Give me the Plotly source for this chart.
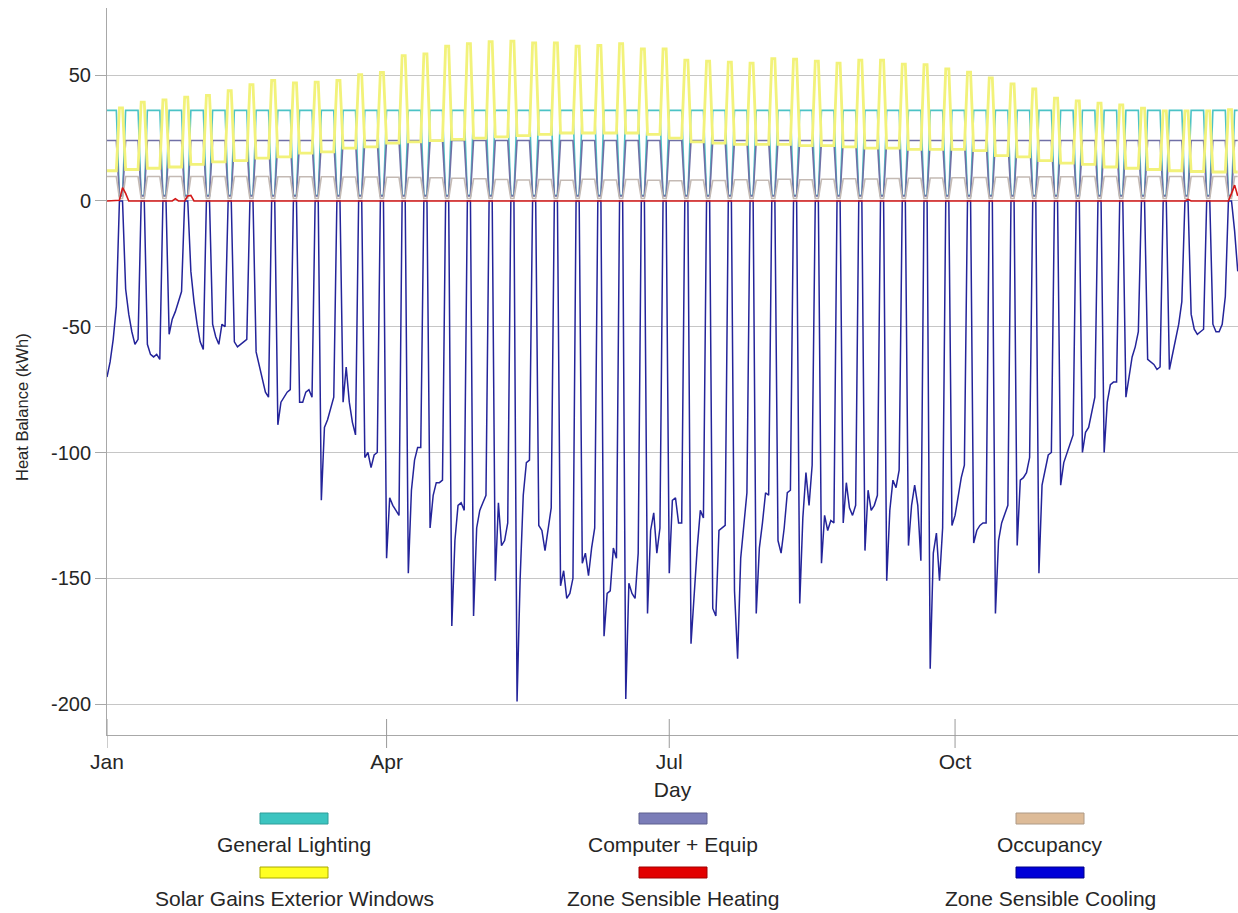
import pandas as pd
import plotly.graph_objects as go

# ---------------- DATA (daily heat balance, kWh) ----------------
# Days are grouped by working week: group 0 = Tue-Fri Jan 1-4, groups 1..51 = Mon-Fri,
# group 52 = Mon-Tue Dec 30-31. Each group is followed by a Sat+Sun weekend (52 weekends).
START_DATE = "2019-01-01"

cooling_weekdays = [
    [-70, -64, -55, -42],
    [-35, -45, -52, -57, -55],
    [-57, -61, -62, -61, -63],
    [-53, -47, -44, -40, -36],
    [-28, -40, -49, -56, -59],
    [-49, -54, -57, -49, -50],
    [-56, -58, -57, -56, -55],
    [-60, -65, -71, -76, -78],
    [-89, -80, -78, -76, -75],
    [-80, -80, -76, -75, -78],
    [-119, -90, -87, -82, -78],
    [-80, -66, -80, -88, -93],
    [-102, -100, -106, -101, -100],
    [-142, -118, -121, -123, -125],
    [-148, -115, -103, -98, -98],
    [-130, -117, -112, -112, -111],
    [-169, -135, -121, -120, -123],
    [-165, -130, -123, -120, -117],
    [-151, -120, -137, -135, -128],
    [-199, -150, -117, -104, -103],
    [-129, -131, -139, -130, -122],
    [-153, -147, -158, -156, -150],
    [-144, -140, -149, -138, -130],
    [-173, -156, -155, -138, -142],
    [-198, -152, -156, -158, -140],
    [-164, -131, -124, -140, -130],
    [-148, -119, -118, -128, -128],
    [-176, -155, -138, -123, -126],
    [-162, -165, -131, -130, -129],
    [-155, -182, -142, -128, -116],
    [-164, -138, -128, -116, -117],
    [-135, -140, -130, -116, -115],
    [-160, -126, -108, -121, -105],
    [-144, -125, -131, -127, -128],
    [-128, -112, -122, -125, -121],
    [-139, -115, -123, -121, -117],
    [-151, -123, -111, -114, -107],
    [-137, -121, -113, -121, -143],
    [-186, -140, -132, -151, -130],
    [-129, -125, -117, -110, -105],
    [-136, -131, -129, -128, -128],
    [-164, -135, -128, -124, -121],
    [-137, -111, -110, -108, -102],
    [-148, -113, -107, -101, -100],
    [-113, -104, -100, -96, -93],
    [-100, -92, -90, -84, -78],
    [-100, -80, -73, -72, -72],
    [-78, -70, -62, -58, -52],
    [-63, -64, -65, -67, -66],
    [-67, -61, -55, -49, -40],
    [-45, -51, -53, -52, -51],
    [-49, -52, -52, -49, -38],
    [-12, -28],
]
cooling_weekend = 0.0

solar_weekday = [
    12, 12.5, 13, 13.5, 14.5, 15.5, 16, 17, 17.5, 19,
    19.5, 21, 21.5, 23, 23.5, 24, 24.5, 25, 25.5, 26,
    26.5, 27, 27, 27, 27, 26.5, 25, 23.5, 23, 22.5,
    22.5, 22.5, 22, 22, 21.5, 21, 21, 20.5, 20.5, 20.5,
    20, 18, 17.5, 16, 15, 14.5, 13.5, 13, 12.5, 12,
    11.7, 11.5, 11.5,
]
solar_weekend = [
    37, 39.3, 40.2, 41.3, 42, 43.8, 46.2, 47.9, 46.9, 47.2,
    47.9, 50.2, 51.1, 57.8, 58.5, 61.5, 62.5, 63.3, 63.5, 62.8,
    62.8, 61.5, 61.8, 62.5, 60.4, 60.4, 56, 55.6, 55.2, 54.8,
    56.6, 56.4, 55.6, 54.8, 56, 56, 54.4, 54.2, 52.5, 51.2,
    48.9, 46.5, 44.5, 40.9, 39.8, 38.9, 38.2, 36.9, 35.8, 35.8,
    35.8, 36.3,
]

occupancy_weekday = [
    9.7, 9.7, 9.7, 9.7, 9.7, 9.7, 9.7, 9.7, 9.6, 9.6,
    9.6, 9.5, 9.5, 9.4, 9.3, 9.2, 9.0, 8.8, 8.5, 8.3,
    8.5, 8.2, 8.6, 8.3, 8.5, 8.2, 8.0, 8.3, 8.1, 8.4,
    8.2, 8.6, 8.4, 8.6, 8.8, 8.7, 8.9, 9.0, 9.1, 9.2,
    9.3, 9.4, 9.5, 9.6, 9.6, 9.7, 9.7, 9.7, 9.7, 9.7,
    9.7, 9.7, 9.7,
]
occupancy_weekend = 1.0

lighting_weekday, lighting_weekend = 36.0, 2.2
computer_weekday, computer_weekend = 24.0, 2.0

heating_days = [4, 5, 6, 22, 26, 27, 348, 362, 363, 364]
heating_values = [0.3, 5.3, 3.0, 0.9, 2.0, 2.2, 0.6, 3.0, 6.3, 2.0]

legend_names = ["General Lighting", "Computer + Equip", "Occupancy",
                "Solar Gains Exterior Windows", "Zone Sensible Heating", "Zone Sensible Cooling"]
month_ticks = ["2019-01-01", "2019-04-01", "2019-07-01", "2019-10-01"]
month_labels = ["Jan", "Apr", "Jul", "Oct"]
y_ticks = [-200, -150, -100, -50, 0, 50]
y_labels = ["-200", "-150", "-100", "-50", "0", "50"]

# ---------------- BUILD DAILY SERIES ----------------
def expand(weekday_groups, weekend_values):
    out = []
    for g, vals in enumerate(weekday_groups):
        out.extend(vals)
        if g < len(weekend_values):
            out.extend([weekend_values[g]] * 2)
    return out

sizes = [len(g) for g in cooling_weekdays]
n_weekends = len(cooling_weekdays) - 1

cooling = expand(cooling_weekdays, [cooling_weekend] * n_weekends)
solar = expand([[v] * s for v, s in zip(solar_weekday, sizes)], solar_weekend)
occupancy = expand([[v] * s for v, s in zip(occupancy_weekday, sizes)], [occupancy_weekend] * n_weekends)
lighting = expand([[lighting_weekday] * s for s in sizes], [lighting_weekend] * n_weekends)
computer = expand([[computer_weekday] * s for s in sizes], [computer_weekend] * n_weekends)
n_days = len(cooling)
heating = [0.0] * n_days
for d, v in zip(heating_days, heating_values):
    heating[d] = v

dates = pd.date_range(START_DATE, periods=n_days, freq="D")

# ---------------- FIGURE ----------------
W, H = 1238, 913
PL, PR, PT, PB = 107, 1238, 8, 735

def px(x):
    return (x - PL) / (PR - PL)

def py(y):
    return (PB - y) / (PB - PT)

FONT = "Liberation Sans, Arial, sans-serif"
TXT = "#262626"

series = [
    (legend_names[0], lighting, "#4CC3C6", 1.6),
    (legend_names[1], computer, "#7070A6", 1.6),
    (legend_names[2], occupancy, "#C4BAB4", 1.6),
    (legend_names[3], solar, "#F2F27A", 2.8),
    (legend_names[5], cooling, "#24249A", 1.5),
    (legend_names[4], heating, "#D41818", 1.6),
]

fig = go.Figure()
for name, vals, color, width in series:
    fig.add_trace(go.Scatter(x=dates, y=vals, mode="lines", name=name,
                             line=dict(color=color, width=width), showlegend=False))

shapes = []
# x ticks crossing the axis line (drawn both inside and outside the plot)
for d in month_ticks:
    shapes.append(dict(type="line", xref="x", yref="paper", x0=d, x1=d,
                       y0=py(748), y1=py(719), line=dict(color="#9A9A9A", width=1)))

# custom legend: swatch above label, 3 columns x 2 rows
legend_items = [
    (legend_names[0], "#3CC4C0", "#2E9E9A", 294, 0),
    (legend_names[1], "#7B7DB8", "#5E608F", 673, 0),
    (legend_names[2], "#DDBB98", "#AE9A86", 1050, 0),
    (legend_names[3], "#FFFF22", "#A8A800", 294, 1),
    (legend_names[4], "#E20000", "#A00000", 673, 1),
    (legend_names[5], "#0000D8", "#000088", 1050, 1),
]
annotations = []
for name, fill, border, xc, row in legend_items:
    sy0 = 813 + row * 54
    shapes.append(dict(type="rect", xref="paper", yref="paper",
                       x0=px(xc - 34), x1=px(xc + 34), y0=py(sy0 + 11), y1=py(sy0),
                       fillcolor=fill, line=dict(color=border, width=1)))
    annotations.append(dict(xref="paper", yref="paper", x=px(xc), y=py(sy0 + 31),
                            text=name, showarrow=False, xanchor="center", yanchor="middle",
                            font=dict(family=FONT, size=21, color=TXT)))

annotations.append(dict(xref="paper", yref="paper", x=px(22), y=py(407),
                        text="Heat Balance (kWh)", textangle=-90, showarrow=False,
                        xanchor="center", yanchor="middle",
                        font=dict(family=FONT, size=16.5, color=TXT)))

fig.update_layout(
    width=W, height=H,
    margin=dict(l=PL, r=W - PR, t=PT, b=H - PB),
    paper_bgcolor="white", plot_bgcolor="white",
    font=dict(family=FONT, size=18, color=TXT),
    shapes=shapes, annotations=annotations,
    showlegend=False,
)
fig.update_xaxes(
    type="date",
    range=["2019-01-01", "2019-12-31 02:00"],
    tickvals=month_ticks,
    ticktext=month_labels,
    ticks="outside", ticklen=8, tickcolor="rgba(0,0,0,0)", tickwidth=1,
    showline=True, linecolor="#A8A8A8", linewidth=1,
    showgrid=False, zeroline=False,
    tickfont=dict(family=FONT, size=21, color=TXT),
    title=dict(text="Day", font=dict(family=FONT, size=21, color=TXT), standoff=10),
)
fig.update_yaxes(
    range=[-212.3, 76.7],
    tickvals=y_ticks,
    ticktext=y_labels,
    ticks="outside", ticklen=11, tickcolor="#A8A8A8", tickwidth=1,
    showline=True, linecolor="#A8A8A8", linewidth=1,
    showgrid=True, gridcolor="#C6C6C6", gridwidth=1, zeroline=False,
    tickfont=dict(family=FONT, size=20, color=TXT),
)

fig.write_html("out.html", config={"displayModeBar": False},
               post_script="document.body.style.margin='0';document.body.style.padding='0';")
